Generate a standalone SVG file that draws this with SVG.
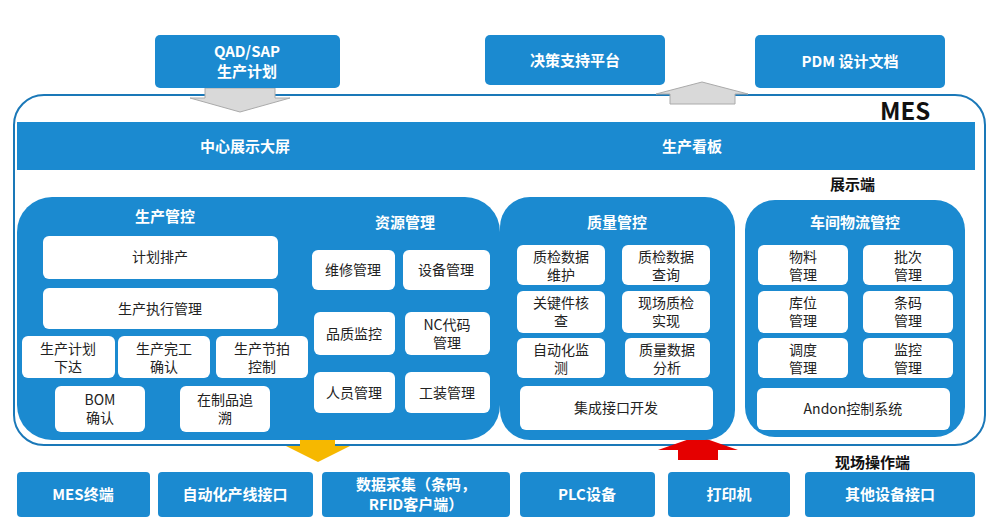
<svg xmlns="http://www.w3.org/2000/svg" width="1000" height="527" viewBox="0 0 1000 527">
<style>
.b{fill:#1b8ad0}
.w{fill:#fff}
.t{font-family:"Noto Sans CJK SC","Noto Sans",sans-serif;font-size:14px;text-anchor:middle;fill:#222}
.tw{font-family:"Noto Sans CJK SC","Noto Sans",sans-serif;font-size:15px;font-weight:bold;text-anchor:middle;fill:#fff}
.tk{font-family:"Noto Sans CJK SC","Noto Sans",sans-serif;font-weight:bold;fill:#111}
</style>
<rect width="1000" height="527" fill="#fff"/>
<rect x="14" y="95" width="971" height="350" rx="30" fill="#fff" stroke="#1a78b8" stroke-width="2"/>
<g id="connectors">
<polygon points="205,88 275,88 275,98 290,98 240,112 190,98 205,98" fill="#d9d9d9" stroke="#aaa"/>
<polygon points="670,104 735,104 735,94 748,94 702,82 656,94 670,94" fill="#d9d9d9" stroke="#aaa"/>
<polygon points="300,436 335,436 335,446 350,446 318,462 286,446 300,446" fill="#f6b800"/>
<polygon points="678,460 718,460 718,450 738,450 698,436 658,450 678,450" fill="#e50000"/>
</g>
<g id="top">
<rect class="b" x="155" y="35" width="185" height="53" rx="5"/><text class="tw" x="247" y="57">QAD/SAP</text><text class="tw" x="247" y="77">生产计划</text>
<rect class="b" x="485" y="35" width="180" height="50" rx="5"/><text class="tw" x="575" y="66">决策支持平台</text>
<rect class="b" x="755" y="35" width="190" height="53" rx="5"/><text class="tw" x="850" y="67">PDM 设计文档</text>
</g>
<text class="tk" x="880" y="120" font-size="24">MES</text>
<g id="banner"><rect class="b" x="17" y="122" width="958" height="48"/>
<text class="tw" x="245" y="152">中心展示大屏</text><text class="tw" x="692" y="152">生产看板</text></g>
<text class="tk" x="830" y="190" font-size="15">展示端</text>
<g id="p1"><rect class="b" x="17" y="197" width="483" height="243" rx="35"/>
<text class="tw" x="165" y="222">生产管控</text><text class="tw" x="405" y="228">资源管理</text>
<rect class="w" x="43" y="236" width="235" height="43" rx="6"/><text class="t" x="160" y="262">计划排产</text>
<rect class="w" x="43" y="288" width="235" height="41" rx="6"/><text class="t" x="160" y="314">生产执行管理</text>
<rect class="w" x="22" y="336" width="93" height="42" rx="6"/><text class="t" x="68" y="354">生产计划</text><text class="t" x="68" y="372">下达</text>
<rect class="w" x="118" y="336" width="92" height="42" rx="6"/><text class="t" x="164" y="354">生产完工</text><text class="t" x="164" y="372">确认</text>
<rect class="w" x="216" y="336" width="92" height="42" rx="6"/><text class="t" x="262" y="354">生产节拍</text><text class="t" x="262" y="372">控制</text>
<rect class="w" x="55" y="386" width="90" height="46" rx="6"/><text class="t" x="100" y="405">BOM</text><text class="t" x="100" y="423">确认</text>
<rect class="w" x="180" y="386" width="90" height="46" rx="6"/><text class="t" x="225" y="405">在制品追</text><text class="t" x="225" y="423">溯</text>
<rect class="w" x="312" y="250" width="83" height="40" rx="6"/><text class="t" x="353" y="275">维修管理</text>
<rect class="w" x="403" y="250" width="87" height="40" rx="6"/><text class="t" x="446" y="275">设备管理</text>
<rect class="w" x="314" y="312" width="81" height="43" rx="6"/><text class="t" x="354" y="339">品质监控</text>
<rect class="w" x="405" y="312" width="85" height="43" rx="6"/><text class="t" x="447" y="330">NC代码</text><text class="t" x="447" y="348">管理</text>
<rect class="w" x="314" y="372" width="81" height="41" rx="6"/><text class="t" x="354" y="398">人员管理</text>
<rect class="w" x="405" y="372" width="85" height="41" rx="6"/><text class="t" x="447" y="398">工装管理</text>
</g>
<g id="p2"><rect class="b" x="500" y="197" width="235" height="243" rx="30"/>
<text class="tw" x="617" y="228">质量管控</text>
<rect class="w" x="517" y="245" width="88" height="40" rx="6"/><text class="t" x="561" y="262">质检数据</text><text class="t" x="561" y="280">维护</text>
<rect class="w" x="622" y="245" width="88" height="40" rx="6"/><text class="t" x="666" y="262">质检数据</text><text class="t" x="666" y="280">查询</text>
<rect class="w" x="517" y="291" width="88" height="42" rx="6"/><text class="t" x="561" y="308">关键件核</text><text class="t" x="561" y="326">查</text>
<rect class="w" x="622" y="291" width="88" height="42" rx="6"/><text class="t" x="666" y="308">现场质检</text><text class="t" x="666" y="326">实现</text>
<rect class="w" x="517" y="338" width="88" height="40" rx="6"/><text class="t" x="561" y="355">自动化监</text><text class="t" x="561" y="373">测</text>
<rect class="w" x="625" y="338" width="85" height="40" rx="6"/><text class="t" x="667" y="355">质量数据</text><text class="t" x="667" y="373">分析</text>
<rect class="w" x="520" y="386" width="193" height="44" rx="6"/><text class="t" x="616" y="413">集成接口开发</text>
</g>
<g id="p3"><rect class="b" x="745" y="200" width="220" height="237" rx="30"/>
<text class="tw" x="855" y="228">车间物流管控</text>
<rect class="w" x="758" y="245" width="90" height="40" rx="6"/><text class="t" x="803" y="262">物料</text><text class="t" x="803" y="280">管理</text>
<rect class="w" x="863" y="245" width="90" height="40" rx="6"/><text class="t" x="908" y="262">批次</text><text class="t" x="908" y="280">管理</text>
<rect class="w" x="758" y="291" width="90" height="42" rx="6"/><text class="t" x="803" y="308">库位</text><text class="t" x="803" y="326">管理</text>
<rect class="w" x="863" y="291" width="90" height="42" rx="6"/><text class="t" x="908" y="308">条码</text><text class="t" x="908" y="326">管理</text>
<rect class="w" x="758" y="338" width="90" height="40" rx="6"/><text class="t" x="803" y="355">调度</text><text class="t" x="803" y="373">管理</text>
<rect class="w" x="863" y="338" width="90" height="40" rx="6"/><text class="t" x="908" y="355">监控</text><text class="t" x="908" y="373">管理</text>
<rect class="w" x="757" y="388" width="193" height="42" rx="6"/><text class="t" x="853" y="414">Andon控制系统</text>
</g>
<text class="tk" x="835" y="468" font-size="15">现场操作端</text>
<g id="bottom">
<rect class="b" x="17" y="472" width="133" height="45" rx="4"/><text class="tw" x="83" y="500">MES终端</text>
<rect class="b" x="158" y="472" width="155" height="45" rx="4"/><text class="tw" x="235" y="500">自动化产线接口</text>
<rect class="b" x="322" y="472" width="188" height="45" rx="4"/><text class="tw" x="416" y="490">数据采集（条码，</text><text class="tw" x="416" y="510">RFID客户端）</text>
<rect class="b" x="520" y="472" width="135" height="45" rx="4"/><text class="tw" x="587" y="500">PLC设备</text>
<rect class="b" x="668" y="472" width="122" height="45" rx="4"/><text class="tw" x="729" y="500">打印机</text>
<rect class="b" x="805" y="472" width="170" height="45" rx="4"/><text class="tw" x="890" y="500">其他设备接口</text>
</g>
</svg>
